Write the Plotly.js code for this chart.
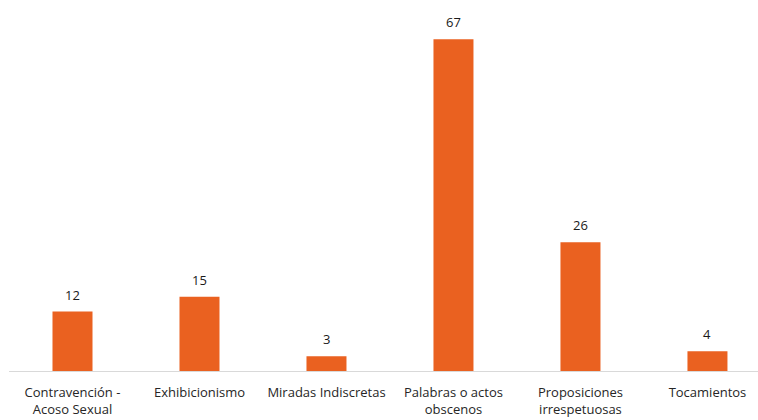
<!DOCTYPE html>
<html>
<head>
<meta charset="utf-8">
<script src="https://cdn.plot.ly/plotly-3.0.1.min.js"></script>
<style>html,body{margin:0;padding:0;background:#fff;}#chart{width:758px;height:420px;}</style>
</head>
<body>
<div id="chart"></div>
<script>
const categories = ["Contravención -<br>Acoso Sexual", "Exhibicionismo", "Miradas Indiscretas", "Palabras o actos<br>obscenos", "Proposiciones<br>irrespetuosas", "Tocamientos"];
const values = [12, 15, 3, 67, 26, 4];

const trace = {
  type: "bar",
  x: categories,
  y: values,
  marker: {color: "#EA6120"},
  hoverinfo: "none"
};

const annotations = categories.map((c, i) => ({
  x: c, y: values[i], xref: "x", yref: "y",
  text: String(values[i]), showarrow: false,
  yanchor: "bottom", yshift: 6,
  font: {family: "Open Sans, sans-serif", size: 13, color: "#1a1a1a"}
}));

const layout = {
  width: 758, height: 420,
  margin: {l: 9, r: 0, t: 0, b: 49},
  paper_bgcolor: "#fff", plot_bgcolor: "#fff",
  bargap: 0.685,
  showlegend: false,
  font: {family: "Open Sans, sans-serif", size: 13, color: "#262626"},
  xaxis: {
    type: "category",
    range: [-0.5, 5.398],
    showline: true, linecolor: "#d9d9d9", linewidth: 1,
    showgrid: false, zeroline: false, ticks: "",
    ticklabelstandoff: 9,
    tickfont: {family: "Open Sans, sans-serif", size: 13, color: "#262626"},
    tickangle: 0, automargin: false
  },
  yaxis: {
    range: [0, 74.9], visible: false, showgrid: false, zeroline: false, fixedrange: true
  },
  annotations: annotations
};

Plotly.newPlot("chart", [trace], layout, {displayModeBar: false, staticPlot: true});
</script>
</body>
</html>
